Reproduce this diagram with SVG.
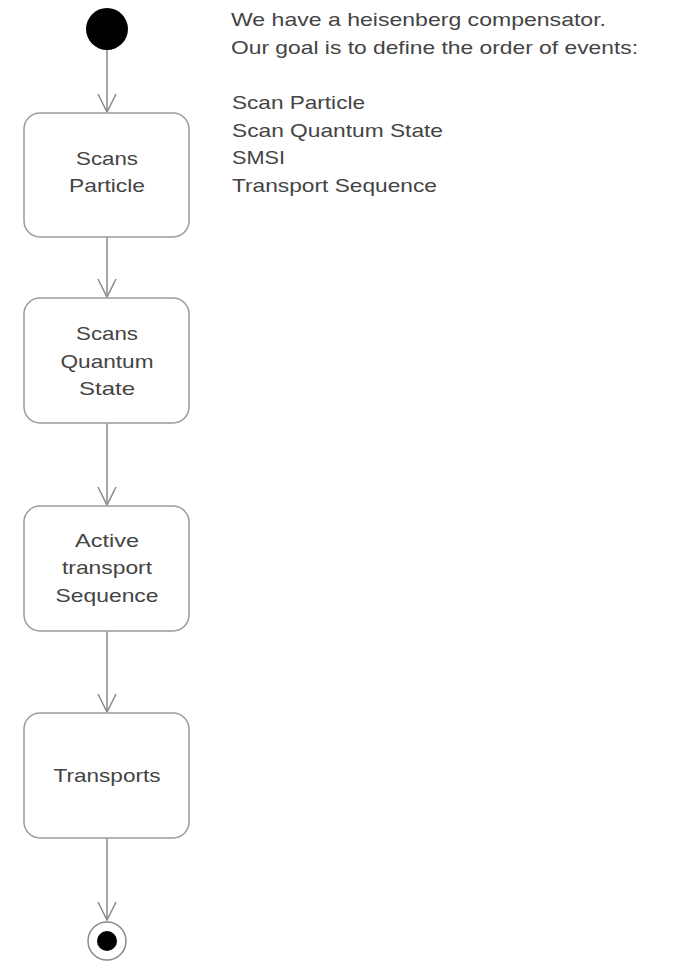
<svg xmlns="http://www.w3.org/2000/svg" width="693" height="968" viewBox="0 0 693 968">
<style>
.box{fill:#fff;stroke:#9a9a9a;stroke-width:1.5}
.t{font-family:"Liberation Sans",Arial,sans-serif;font-size:19px;fill:#444}
.c{text-anchor:middle}
.ln{stroke:#8a8a8a;stroke-width:1.5;fill:none}
</style>
<defs>
<marker id="arr" markerUnits="userSpaceOnUse" markerWidth="30" markerHeight="30" refX="0" refY="0" orient="auto" overflow="visible">
<path d="M-18,-9 L0,0 L-18,9" fill="none" stroke="#8a8a8a" stroke-width="1.5"/>
</marker>
</defs>
<rect width="693" height="968" fill="#fff"/>
<g id="connectors">
<line class="ln" x1="107" y1="50" x2="107" y2="112" marker-end="url(#arr)"/>
<line class="ln" x1="107" y1="237" x2="107" y2="297" marker-end="url(#arr)"/>
<line class="ln" x1="107" y1="423" x2="107" y2="505" marker-end="url(#arr)"/>
<line class="ln" x1="107" y1="631" x2="107" y2="712" marker-end="url(#arr)"/>
<line class="ln" x1="107" y1="838" x2="107" y2="920" marker-end="url(#arr)"/>
</g>
<g id="start"><circle cx="107" cy="29" r="21" fill="#000"/></g>
<g id="scans-particle">
<rect class="box" x="24" y="113" width="165" height="124" rx="16"/>
<text class="t c" x="107" y="165" textLength="62" lengthAdjust="spacingAndGlyphs">Scans</text>
<text class="t c" x="107" y="192" textLength="76" lengthAdjust="spacingAndGlyphs">Particle</text>
</g>
<g id="scans-quantum-state">
<rect class="box" x="24" y="298" width="165" height="125" rx="16"/>
<text class="t c" x="107" y="340" textLength="62" lengthAdjust="spacingAndGlyphs">Scans</text>
<text class="t c" x="107" y="368" textLength="93" lengthAdjust="spacingAndGlyphs">Quantum</text>
<text class="t c" x="107" y="395" textLength="56" lengthAdjust="spacingAndGlyphs">State</text>
</g>
<g id="active-transport-sequence">
<rect class="box" x="24" y="506" width="165" height="125" rx="16"/>
<text class="t c" x="107" y="547" textLength="64" lengthAdjust="spacingAndGlyphs">Active</text>
<text class="t c" x="107" y="574" textLength="90" lengthAdjust="spacingAndGlyphs">transport</text>
<text class="t c" x="107" y="602" textLength="103" lengthAdjust="spacingAndGlyphs">Sequence</text>
</g>
<g id="transports">
<rect class="box" x="24" y="713" width="165" height="125" rx="16"/>
<text class="t c" x="107" y="782" textLength="107" lengthAdjust="spacingAndGlyphs">Transports</text>
</g>
<g id="end">
<circle cx="107" cy="941" r="19" fill="#fff" stroke="#8a8a8a" stroke-width="1.5"/>
<circle cx="107" cy="941" r="10" fill="#000"/>
</g>
<g id="note">
<text class="t" x="231" y="26" textLength="375" lengthAdjust="spacingAndGlyphs">We have a heisenberg compensator.</text>
<text class="t" x="231" y="54" textLength="407" lengthAdjust="spacingAndGlyphs">Our goal is to define the order of events:</text>
<text class="t" x="232" y="109" textLength="133" lengthAdjust="spacingAndGlyphs">Scan Particle</text>
<text class="t" x="232" y="137" textLength="211" lengthAdjust="spacingAndGlyphs">Scan Quantum State</text>
<text class="t" x="232" y="164" textLength="53" lengthAdjust="spacingAndGlyphs">SMSI</text>
<text class="t" x="232" y="192" textLength="205" lengthAdjust="spacingAndGlyphs">Transport Sequence</text>
</g>
</svg>
